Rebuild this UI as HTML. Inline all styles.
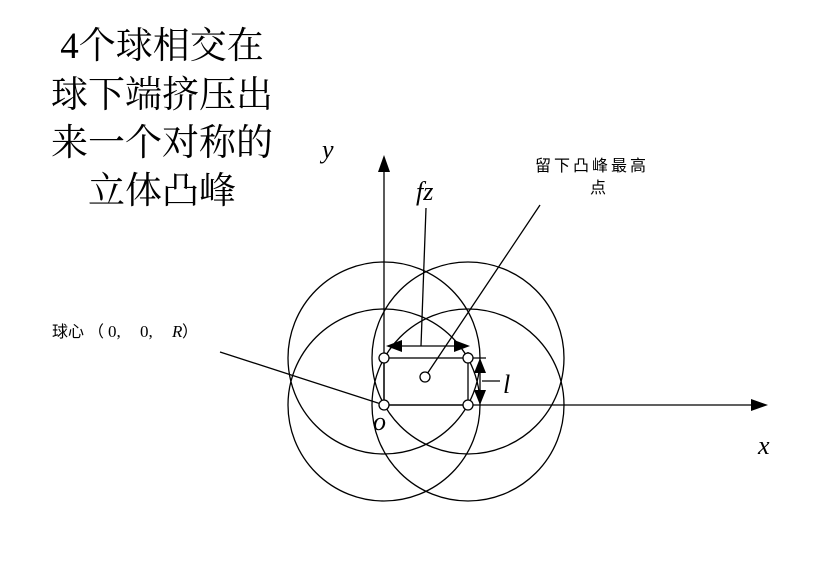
<!DOCTYPE html>
<html><head><meta charset="utf-8"><style>
body{margin:0;background:#fff;width:827px;height:571px;overflow:hidden}
svg{display:block}
</style></head><body>
<svg width="827" height="571" viewBox="0 0 827 571" xmlns="http://www.w3.org/2000/svg">
<g font-family="'Liberation Serif','Noto Serif CJK SC',serif" font-size="37" text-anchor="middle" fill="#000">
<text x="162" y="58">4个球相交在</text>
<text x="162" y="107">球下端挤压出</text>
<text x="162" y="155">来一个对称的</text>
<text x="162" y="203">立体凸峰</text>
</g>
<g fill="none" stroke="#000" stroke-width="1.3">
<circle cx="384" cy="358" r="96"/>
<circle cx="468" cy="358" r="96"/>
<circle cx="384" cy="405" r="96"/>
<circle cx="468" cy="405" r="96"/>
<line x1="384" y1="405" x2="384" y2="170"/>
<line x1="384" y1="405" x2="752" y2="405"/>
<rect x="384" y="358" width="84" height="47"/>
<line x1="426" y1="208" x2="421" y2="346"/>
<line x1="398" y1="346" x2="456" y2="346"/>
<line x1="468" y1="358" x2="486" y2="358"/>
<line x1="468" y1="352" x2="468" y2="362"/>
<line x1="480" y1="370" x2="480" y2="392"/>
<line x1="482" y1="381" x2="500" y2="381"/>
<line x1="425" y1="377" x2="540" y2="205"/>
<line x1="220" y1="352" x2="384" y2="405"/>
</g>
<g fill="#000">
<polygon points="384,155 378,172 390,172"/>
<polygon points="768,405 751,399 751,411"/>
<polygon points="386,346 402,340 402,352"/>
<polygon points="470,346 454,340 454,352"/>
<polygon points="480,358 474,373 486,373"/>
<polygon points="480,405 474,390 486,390"/>
</g>
<g fill="#fff" stroke="#000" stroke-width="1.3">
<circle cx="384" cy="358" r="5"/>
<circle cx="468" cy="358" r="5"/>
<circle cx="384" cy="405" r="5"/>
<circle cx="468" cy="405" r="5"/>
<circle cx="425" cy="377" r="5"/>
</g>
<g font-family="'Liberation Serif',serif" font-style="italic" font-size="26" fill="#000">
<text x="322" y="158">y</text>
<text x="416" y="200">fz</text>
<text x="503" y="393">l</text>
<text x="373" y="430">o</text>
<text x="758" y="454">x</text>
</g>
<g font-family="'Liberation Sans','Noto Sans CJK SC',sans-serif" font-size="16" fill="#000">
<text x="535" y="171" letter-spacing="3">留下凸峰最高</text>
<text x="590" y="193">点</text>
<text x="52" y="337">球心</text>
<text x="88" y="337">（</text>
<text x="108" y="337" font-family="'Liberation Serif',serif" font-size="17">0,</text>
<text x="140" y="337" font-family="'Liberation Serif',serif" font-size="17">0,</text>
<text x="172" y="337" font-family="'Liberation Serif',serif" font-size="17" font-style="italic">R</text>
<text x="182" y="337">）</text>
</g>
</svg>
</body></html>
